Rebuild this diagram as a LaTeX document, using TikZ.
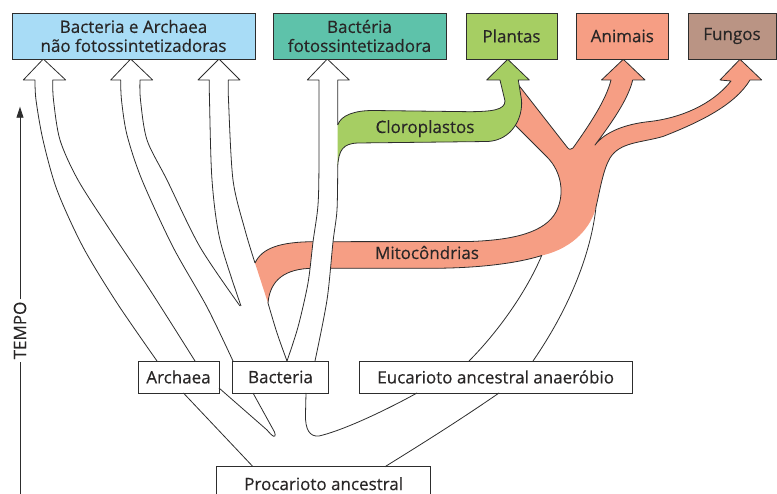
\documentclass[tikz,border=0pt]{standalone}
\usepackage{fontspec}
\setmainfont[FakeBold=0.35]{Open Sans}
\usetikzlibrary{arrows.meta}
\definecolor{lblue}{RGB}{168,220,246}
\definecolor{tealc}{RGB}{94,194,170}
\definecolor{greenc}{RGB}{166,206,99}
\definecolor{salmon}{RGB}{246,158,132}
\definecolor{brownc}{RGB}{186,148,132}
\definecolor{txt}{RGB}{40,38,38}
\definecolor{lnc}{RGB}{45,45,45}
\tikzset{
  every node/.style={font=\fontsize{17}{19}\selectfont, text=txt},
  ln/.style={draw=lnc, line width=0.8pt, line join=round},
  boxstyle/.style={draw=lnc, line width=0.9pt, inner sep=0pt, align=center},
}
\def\greenpath{(337.7,125) .. controls (341,115) and (355,110.5) .. (373,110.5) -- (470,111.7) .. controls (492,111.5) and (505,110) .. (505,101) -- (500,80) -- (486.7,80) -- (507.7,59.3) -- (529.3,80) -- (518.3,80) -- (521.5,100) .. controls (523,118) and (512,140) .. (488,141.5) -- (358,143) .. controls (343,143.5) and (338.5,150) .. (337.7,167)}
\def\aleft{plot[smooth] coordinates {(287,361) (298,327) (308,283) (313,242) (318,205) (319,160) (319,80)}}
\begin{document}
\begin{tikzpicture}[x=1pt,y=-1pt]
\useasboundingbox (0,0) rectangle (777,494);

% mitochondria (salmon) region
\fill[salmon] (255,263) .. controls (262,248) and (280,242) .. (313,241.7) -- (470,241.5) .. controls (515,240) and (545,232) .. (556,212) .. controls (565,195) and (562,172) .. (547,157) -- (515,125)
  -- (505,118) -- (505,92) -- (517,83)
  -- (567,147) .. controls (569,150) and (571,150) .. (573,148) .. controls (590,124) and (606,100) .. (611,80)
  -- (601.5,80) -- (623.3,59.3) -- (645,80) -- (632.7,80)
  .. controls (628,100) and (610,125) .. (595,145)
  .. controls (605,132) and (625,124) .. (650,121.5) .. controls (680,118) and (712,105) .. (731,81)
  -- (720,80) -- (740,59.3) -- (761.7,80) -- (750,80)
  .. controls (735,105) and (700,122) .. (663,136.5) .. controls (640,143) and (620,142) .. (610,158) .. controls (603,170) and (600,190) .. (596,207)
  .. controls (592,225) and (575,248) .. (541.7,255.5)
  .. controls (525,261) and (490,268) .. (433,268.3) -- (313,268.3) .. controls (285,268.5) and (270,280) .. (268,303) -- cycle;
% salmon outlines
\draw[ln] (255,263) .. controls (262,248) and (280,242) .. (313,241.7) -- (470,241.5) .. controls (515,240) and (545,232) .. (556,212) .. controls (565,195) and (562,172) .. (547,157) -- (515,125);
\draw[ln] (517,83) -- (567,147) .. controls (569,150) and (571,150) .. (573,148) .. controls (590,124) and (606,100) .. (611,80)
  -- (601.5,80) -- (623.3,59.3) -- (645,80) -- (632.7,80)
  .. controls (628,100) and (610,125) .. (595,145)
  .. controls (605,132) and (625,124) .. (650,121.5) .. controls (680,118) and (712,105) .. (731,81)
  -- (720,80) -- (740,59.3) -- (761.7,80) -- (750,80)
  .. controls (735,105) and (700,122) .. (663,136.5) .. controls (640,143) and (620,142) .. (610,158) .. controls (603,170) and (600,190) .. (596,207)
  .. controls (592,245) and (575,300) .. (533,361);
\draw[ln] (469,361) .. controls (495,335) and (525,295) .. (541.7,255.5)
  .. controls (525,261) and (490,268) .. (433,268.3) -- (313,268.3) .. controls (285,268.5) and (270,280) .. (268,303);

% white arrows
\draw[ln] plot[smooth] coordinates {(157,361) (117,303) (83,247) (57,190) (43,140) (36,100) (35,80)} -- (23.3,80) -- (43.3,59) -- (65.7,80) -- plot[smooth] coordinates {(52.7,80) (53.5,100) (60,140) (78,180) (110,230) (150,290) (195,361)};
\draw[ln] plot[smooth] coordinates {(233,361) (207,307) (173,247) (142,180) (127,135) (121.5,100) (120.7,80)} -- (110.7,80) -- (130.7,59) -- (152.7,80) -- plot[smooth] coordinates {(140,80) (140.5,100) (147,140) (167,180) (200,247) (240,306)};
\draw[ln] plot[smooth] coordinates {(241,306) (220,240) (212,180) (209.5,100) (209.3,80)} -- (198,80) -- (219,59) -- (240,80) -- plot[smooth] coordinates {(228.3,80) (228.5,100) (233,180) (245,230) (255,263)};
\draw[ln] plot[smooth] coordinates {(268,303) (277,333) (287,361)};

% photosynthetic bacteria arrow (over mitochondria)
\fill[white] \aleft -- (307.3,80) -- (327.3,59) -- (349.3,80) -- plot[smooth] coordinates {(337.7,80) (337.7,125) (337.7,167) (337,210) (333,242) (327,300) (315,361)} -- cycle;
\draw[ln] \aleft -- (307.3,80) -- (327.3,59) -- (349.3,80) -- (337.7,80) -- (337.7,125);
\draw[ln] plot[smooth] coordinates {(337.7,167) (337,210) (333,242) (327,300) (315,361)};

% chloroplasts (green)
\fill[greenc] \greenpath -- cycle;
\draw[ln] \greenpath;

\node[anchor=base] (cl) at (425,133) {Cloroplastos};
\node[anchor=base] (mi) at (427,259) {Mitocôndrias};

% boxes
\node[boxstyle, fill=lblue, minimum width=243pt, minimum height=46pt] (bna) at (133.5,36) {Bacteria e Archaea\\não fotossintetizadoras};
\node[boxstyle, fill=tealc, minimum width=173pt, minimum height=46pt] (bf) at (359.5,36) {Bactéria\\fotossintetizadora};
\node[boxstyle, fill=greenc, minimum width=91pt, minimum height=46pt] (pl) at (511.5,36) {Plantas};
\node[boxstyle, fill=salmon, minimum width=91.3pt, minimum height=46pt] (an) at (622.3,36) {Animais};
\node[boxstyle, fill=brownc, minimum width=88pt, minimum height=46pt] (fu) at (732,36) {Fungos};

\node[boxstyle, fill=white, minimum width=81pt, minimum height=32pt] (ar) at (178.5,377) {Archaea};
\node[boxstyle, fill=white, minimum width=95.6pt, minimum height=32pt] (ba) at (280.5,377) {Bacteria};
\node[boxstyle, fill=white, minimum width=272.6pt, minimum height=32pt] (eu) at (495.7,377) {Eucarioto ancestral anaeróbio};
\node[boxstyle, fill=white, minimum width=214pt, minimum height=34pt] (pr) at (323.7,483.7) {Procarioto ancestral};

% lower connections
\draw[ln] (183.4,393) -- (253,466.7);
\draw[ln] (219,388) -- (267,430) .. controls (272,436) and (277,440) .. (274.5,432) -- (253,393);
\draw[ln] (306,393) -- (305.5,414) .. controls (305,430) and (310,437) .. (319,436) .. controls (345,430) and (390,408) .. (417,393);
\draw[ln] (499,393) .. controls (460,420) and (420,445) .. (385,466.7);

% time axis
\node[rotate=90, inner sep=2pt] (tempo) at (20,330.5) {TEMPO};
\draw[ln] (20,500) -- (tempo.west);
\draw[ln, -{Triangle[length=11pt,width=7pt]}] (tempo.east) -- (20,106.7);
\end{tikzpicture}
\end{document}
